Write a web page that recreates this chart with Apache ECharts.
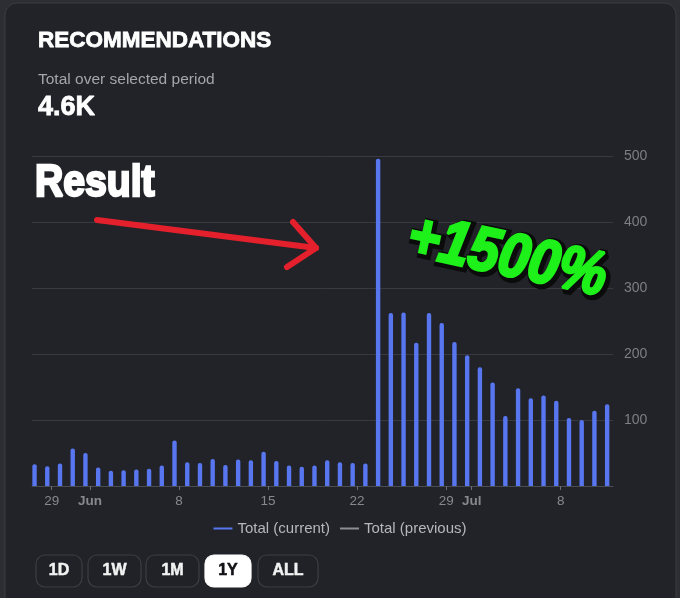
<!DOCTYPE html>
<html>
<head>
<meta charset="utf-8">
<script src="https://cdn.jsdelivr.net/npm/echarts@6/dist/echarts.min.js"></script>
<style>
html,body{margin:0;padding:0;background:#2c2e33;}
#chart{width:680px;height:598px;}
</style>
</head>
<body>
<div id="chart"></div>
<script>
// Daily recommendations, May 28 .. Jul 12
const days = ['May 28','May 29','May 30','May 31','Jun 1','Jun 2','Jun 3','Jun 4','Jun 5','Jun 6','Jun 7','Jun 8','Jun 9','Jun 10','Jun 11','Jun 12','Jun 13','Jun 14','Jun 15','Jun 16','Jun 17','Jun 18','Jun 19','Jun 20','Jun 21','Jun 22','Jun 23','Jun 24','Jun 25','Jun 26','Jun 27','Jun 28','Jun 29','Jun 30','Jul 1','Jul 2','Jul 3','Jul 4','Jul 5','Jul 6','Jul 7','Jul 8','Jul 9','Jul 10','Jul 11','Jul 12'];
const currentValues = [33,30,34,57,50,28,23,24,25,26,31,69,36,35,41,32,40,39,52,38,31,29,31,39,36,35,34,496,262,263,217,262,247,218,198,180,157,106,148,133,137,129,103,100,114,124];
const previousValues = [];
const tickLabels = ['29','Jun','8','15','22','29','Jul','8'];
const tickDays = ['May 29','Jun 1','Jun 8','Jun 15','Jun 22','Jun 29','Jul 1','Jul 8'];
const monthLabels = ['Jun','Jul'];
const buttons = ['1D','1W','1M','1Y','ALL'];
const activeButton = '1Y';

const TICK_SHIFT = 0.35;
const tickIdx = tickDays.map(d => days.indexOf(d));
const tickVals = tickIdx.map(i => i + TICK_SHIFT);
const FONT = '"Liberation Sans", Arial, sans-serif';

const chart = echarts.init(document.getElementById('chart'), null, {renderer:'canvas'});

const btnX = [36, 88, 146, 205, 258];
const btnW = [46, 53, 53, 46, 60];
const btnGraphics = buttons.map((b, k) => ({
  type:'group', x: btnX[k], y: 555,
  children:[
    {type:'rect', shape:{x:0,y:0,width:btnW[k],height:32,r:9},
     style:{fill: b===activeButton ? '#ffffff' : '#202227', stroke: b===activeButton ? '#ffffff' : '#3b3e44', lineWidth:1.2}},
    {type:'text', x: btnW[k]/2, y:16,
     style:{text:b, fill: b===activeButton ? '#111216' : '#f2f2f2', stroke: b===activeButton ? '#111216' : '#f2f2f2', lineWidth:0.5,
       font:'bold 16px ' + FONT, align:'center', verticalAlign:'middle'}}
  ]
}));

const option = {
  backgroundColor:'#2c2e33',
  animation:false,
  grid:{left:32, right:67, top:156, bottom:112, containLabel:false},
  legend:{
    top:516, left:'center', icon:'rect', itemWidth:19, itemHeight:2, itemGap:10,
    textStyle:{color:'#b4b7bc', fontSize:15, fontWeight:500, fontFamily:FONT},
    data:['Total (current)','Total (previous)']
  },
  xAxis:{
    type:'value', min:-0.2, max:45.46,
    axisLine:{show:true, lineStyle:{color:'#4a4d53', width:1}},
    axisTick:{show:true, customValues: tickVals, length:4, lineStyle:{color:'#6a6d73'}},
    axisLabel:{customValues: tickVals, color:'#85888e', fontSize:13.5, margin:8, fontFamily:FONT,
      formatter: v => { const i = Math.round(v - TICK_SHIFT); const k = tickIdx.indexOf(i); if (k<0) return '';
        const t = tickLabels[k]; return monthLabels.indexOf(t)>=0 ? '{m|'+t+'}' : t; },
      rich:{m:{fontWeight:'bold', color:'#85888e', fontSize:13.5, fontFamily:FONT}}},
    splitLine:{show:false}
  },
  yAxis:{
    type:'value', position:'right', min:0, max:500, interval:100,
    axisLine:{show:false}, axisTick:{show:false},
    axisLabel:{color:'#7c7f86', fontSize:14, margin:11, fontFamily:FONT,
      formatter: v => v===0 ? '' : String(v)},
    splitLine:{lineStyle:{color:'#383a40', width:1}}
  },
  series:[
    {name:'Total (current)', type:'bar', barWidth:4.4,
     itemStyle:{color:'#5776f0', borderRadius:[2,2,0,0]},
     data: currentValues.map((v,i)=>[i,v])},
    {name:'Total (previous)', type:'line', symbol:'none',
     itemStyle:{color:'#8b8e94'}, lineStyle:{color:'#8b8e94', width:1},
     data: previousValues.map((v,i)=>[i,v])}
  ],
  graphic:[
    {type:'rect', z:-10, silent:true, shape:{x:5,y:3,width:671,height:620,r:12},
     style:{fill:'#212328', stroke:'#3a3c41', lineWidth:1}},
    {type:'text', x:38, y:41, style:{text:'RECOMMENDATIONS', fill:'#ffffff', stroke:'#ffffff', lineWidth:0.8,
      font:'bold 22.5px ' + FONT, verticalAlign:'middle'}},
    {type:'text', x:38, y:80, style:{text:'Total over selected period', fill:'#a3a6ab', font:'15.5px ' + FONT, verticalAlign:'middle'}},
    {type:'text', x:38, y:108, style:{text:'4.6K', fill:'#ffffff', stroke:'#ffffff', lineWidth:0.8,
      font:'bold 27px ' + FONT, verticalAlign:'middle'}},
    // annotation: Result
    {type:'text', x:35, y:184, scaleX:0.87, z:20, style:{text:'Result', fill:'#ffffff', stroke:'#ffffff', lineWidth:2.5,
      font:'bold 45px ' + FONT, verticalAlign:'middle', shadowColor:'rgba(0,0,0,0.8)', shadowBlur:3, shadowOffsetX:1, shadowOffsetY:2}},
    // red arrow
    {type:'polyline', z:20, shape:{points:[[97,220],[316,248]]}, style:{stroke:'#e3202c', lineWidth:6, lineCap:'round', fill:null}},
    {type:'polyline', z:20, shape:{points:[[293,222],[316,248],[287,267]]}, style:{stroke:'#e3202c', lineWidth:6, lineCap:'round', lineJoin:'round', fill:null}},
    // +1500%
    {type:'text', x:509, y:260, rotation:-0.21, scaleX:0.88, z:20, style:{text:'+1500%', fill:'#0b0b0b', stroke:'#0b0b0b', lineWidth:9,
      align:'center', verticalAlign:'middle', font:'italic bold 62px ' + FONT}},
    {type:'text', x:507, y:258, rotation:-0.21, scaleX:0.88, z:21, style:{text:'+1500%', fill:'#1ef01a', stroke:'#1ef01a', lineWidth:3,
      align:'center', verticalAlign:'middle', font:'italic bold 62px ' + FONT}}
  ].concat(btnGraphics)
};
chart.setOption(option);
</script>
</body>
</html>
